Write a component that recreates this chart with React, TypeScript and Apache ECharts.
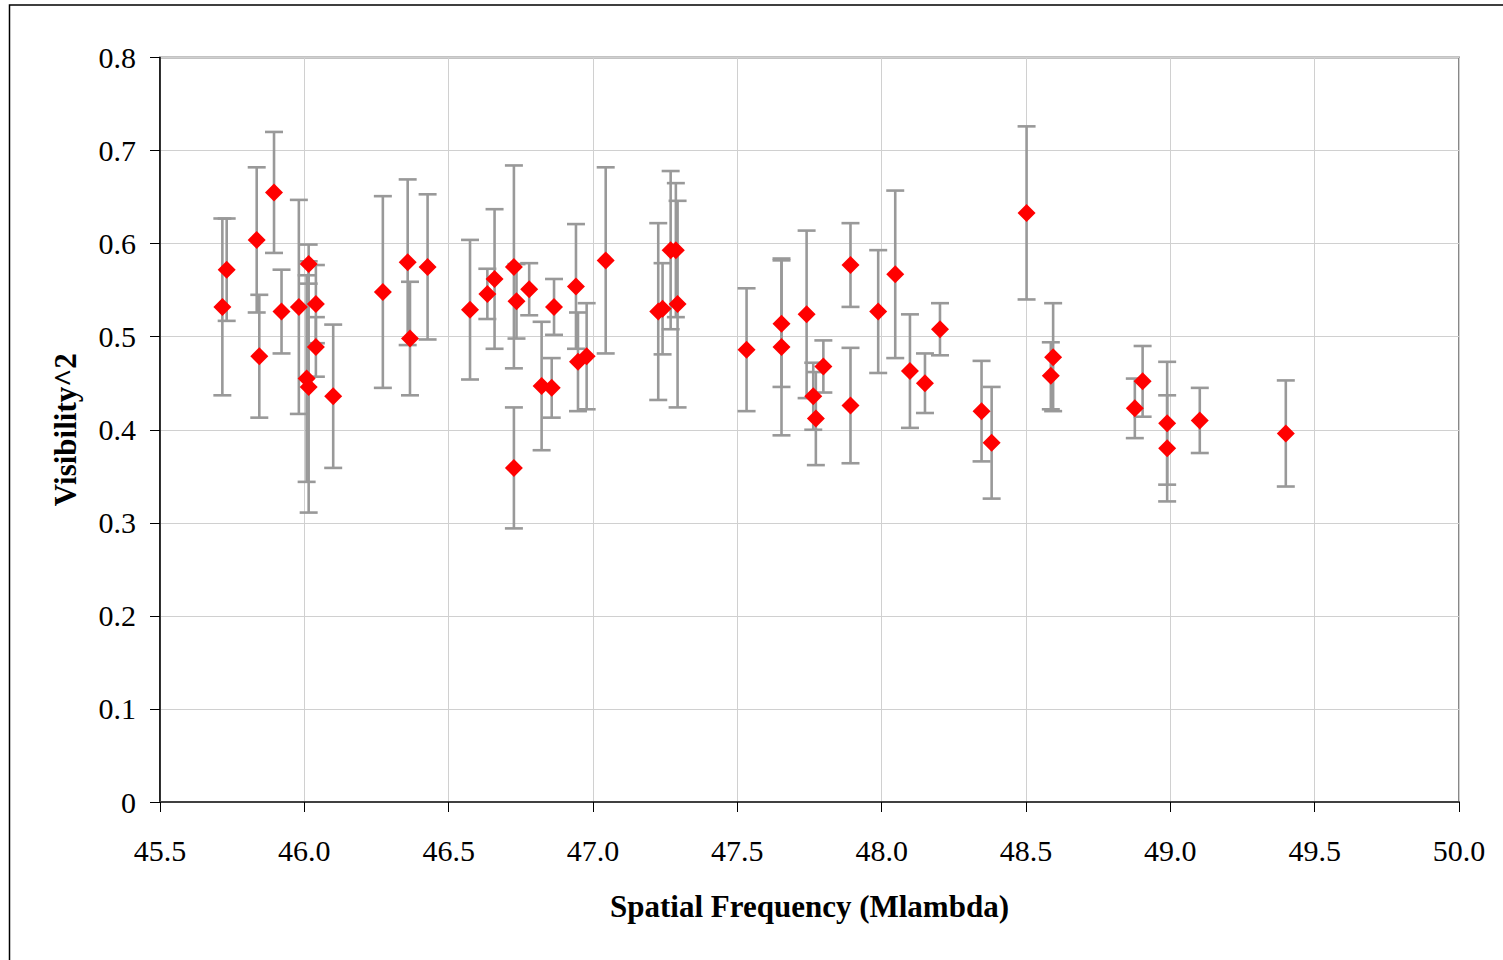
import React, { useEffect, useRef } from "react";
import * as echarts from "echarts";

// Spatial frequency (Mlambda)
const sfx: number[] = [
  45.716, 45.731, 45.835, 45.844, 45.895, 45.921, 45.981, 46.008, 46.015, 46.015,
  46.040, 46.040, 46.100, 46.272, 46.358, 46.366, 46.427, 46.574, 46.634, 46.659,
  46.726, 46.735, 46.779, 46.726, 46.822, 46.857, 46.865, 46.941, 46.948, 46.978,
  47.044, 47.226, 47.241, 47.269, 47.287, 47.293, 47.532, 47.653, 47.653, 47.740,
  47.798, 47.763, 47.772, 47.892, 47.892, 47.988, 48.047, 48.098, 48.150, 48.202,
  48.346, 48.381, 48.502, 48.594, 48.586, 48.877, 48.904, 48.989, 48.989, 49.102,
  49.400,
];
// Visibility^2
const vis2: number[] = [
  0.532, 0.572, 0.604, 0.479, 0.655, 0.527, 0.532, 0.455, 0.578, 0.446,
  0.535, 0.489, 0.436, 0.548, 0.580, 0.498, 0.575, 0.529, 0.546, 0.562,
  0.575, 0.538, 0.551, 0.359, 0.447, 0.445, 0.532, 0.554, 0.473, 0.479,
  0.582, 0.527, 0.530, 0.593, 0.593, 0.535, 0.486, 0.514, 0.489, 0.524,
  0.468, 0.436, 0.412, 0.577, 0.426, 0.527, 0.567, 0.463, 0.450, 0.508,
  0.420, 0.386, 0.633, 0.478, 0.458, 0.423, 0.452, 0.407, 0.380, 0.410,
  0.396,
];
// Error bar half-length
const err: number[] = [
  0.095, 0.055, 0.078, 0.066, 0.065, 0.045, 0.115, 0.111, 0.021, 0.135,
  0.042, 0.032, 0.077, 0.103, 0.089, 0.061, 0.078, 0.075, 0.027, 0.075,
  0.109, 0.040, 0.028, 0.065, 0.069, 0.032, 0.030, 0.067, 0.053, 0.057,
  0.100, 0.095, 0.049, 0.085, 0.072, 0.111, 0.066, 0.068, 0.095, 0.090,
  0.028, 0.036, 0.050, 0.045, 0.062, 0.066, 0.090, 0.061, 0.032, 0.028,
  0.054, 0.060, 0.093, 0.058, 0.036, 0.032, 0.038, 0.066, 0.057, 0.035,
  0.057,
];

const FONT = "Liberation Serif, Times New Roman, serif";

export default function App() {
  const ref = useRef<HTMLDivElement>(null);
  useEffect(() => {
    if (!ref.current) return;
    const chart = echarts.init(ref.current, null, { renderer: "svg" });
    const errData = sfx.map((x, i) => [x, vis2[i], err[i]]);
    const ptData = sfx.map((x, i) => [x, vis2[i]]);
    chart.setOption({
      animation: false,
      backgroundColor: "#ffffff",
      textStyle: { fontFamily: FONT },
      graphic: [
        {
          type: "rect",
          shape: { x: 9.5, y: 5, width: 1500, height: 1000 },
          style: { fill: "none", stroke: "#000000", lineWidth: 1.5 },
          silent: true,
          z: -10,
        },
      ],
      grid: {
        left: 160,
        right: 44,
        top: 57.5,
        bottom: 158,
        show: true,
        borderColor: "#888888",
        borderWidth: 2,
      },
      xAxis: {
        type: "value",
        min: 45.5,
        max: 50,
        interval: 0.5,
        name: "Spatial Frequency (Mlambda)",
        nameLocation: "middle",
        nameGap: 89,
        nameTextStyle: { fontFamily: FONT, fontSize: 31, fontWeight: "bold", color: "#000" },
        axisLine: { lineStyle: { color: "#404040", width: 2 } },
        axisTick: { show: true, length: 10, lineStyle: { color: "#000", width: 1 } },
        axisLabel: {
          fontFamily: FONT,
          fontSize: 30,
          color: "#000",
          margin: 33,
          formatter: (v: number) => v.toFixed(1),
        },
        splitLine: { show: true, lineStyle: { color: "#d0d0d0", width: 1 } },
      },
      yAxis: {
        type: "value",
        min: 0,
        max: 0.8,
        interval: 0.1,
        name: "Visibility^2",
        nameLocation: "middle",
        nameGap: 79,
        nameRotate: 90,
        nameTextStyle: { fontFamily: FONT, fontSize: 31, fontWeight: "bold", color: "#000" },
        axisLine: { show: true, lineStyle: { color: "#000", width: 1.5 } },
        axisTick: { show: true, length: 10, lineStyle: { color: "#000", width: 1 } },
        axisLabel: {
          fontFamily: FONT,
          fontSize: 30,
          color: "#000",
          margin: 24,
          formatter: (v: number) => (v === 0 ? "0" : v.toFixed(1)),
        },
        splitLine: { show: true, lineStyle: { color: "#d0d0d0", width: 1 } },
      },
      series: [
        {
          type: "custom",
          name: "err",
          data: errData,
          encode: { x: 0, y: 1 },
          z: 2,
          renderItem: (params: any, api: any) => {
            const x = api.value(0);
            const y = api.value(1);
            const e = api.value(2);
            const top = api.coord([x, y + e]);
            const bot = api.coord([x, y - e]);
            const hw = 9;
            const st = { stroke: "#999999", lineWidth: 2.6 };
            return {
              type: "group",
              children: [
                { type: "line", shape: { x1: top[0], y1: top[1], x2: bot[0], y2: bot[1] }, style: st },
                { type: "line", shape: { x1: top[0] - hw, y1: top[1], x2: top[0] + hw, y2: top[1] }, style: st },
                { type: "line", shape: { x1: bot[0] - hw, y1: bot[1], x2: bot[0] + hw, y2: bot[1] }, style: st },
              ],
            };
          },
        },
        {
          type: "scatter",
          name: "V2",
          data: ptData,
          symbol: "diamond",
          symbolSize: 18,
          itemStyle: { color: "#ff0000", opacity: 1 },
          z: 3,
        },
      ],
    });
    return () => chart.dispose();
  }, []);
  return (
    <div
      ref={ref}
      style={{ position: "fixed", left: 0, top: 0, width: 1503, height: 960 }}
    />
  );
}
